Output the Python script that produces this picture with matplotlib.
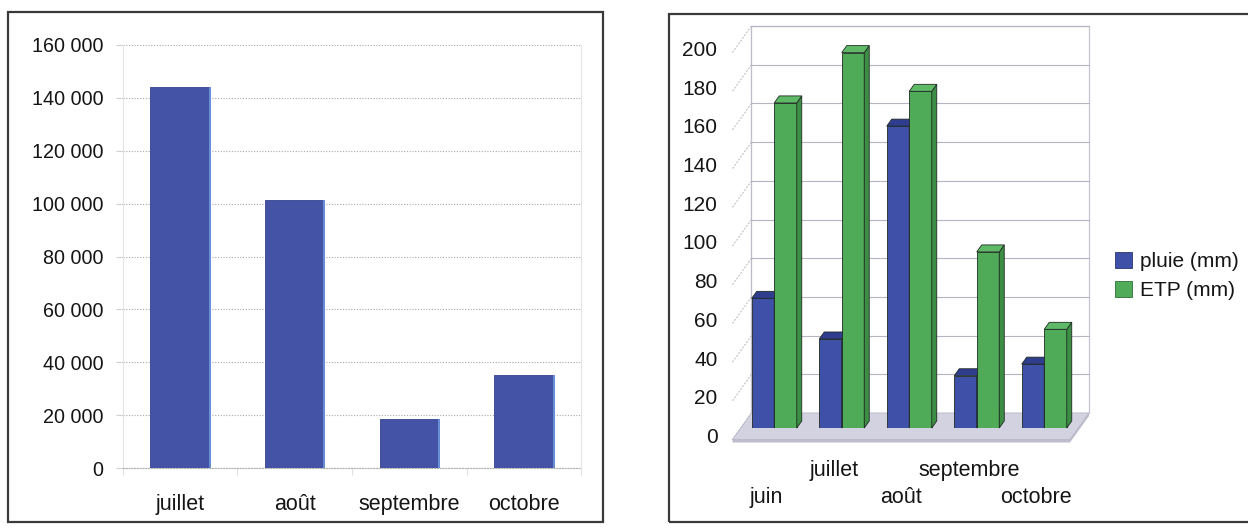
import matplotlib
matplotlib.use("Agg")
import matplotlib.pyplot as plt
from matplotlib.patches import Polygon, Rectangle, Patch

plt.rcParams['font.family'] = ['Liberation Sans', 'DejaVu Sans']

# ---- data -------------------------------------------------------------
mois_volume = ['juillet', 'août', 'septembre', 'octobre']
volumes = [144000, 101500, 18400, 35000]
volume_ticks = [0, 20000, 40000, 60000, 80000, 100000, 120000, 140000, 160000]
volume_tick_labels = ['0', '20 000', '40 000', '60 000', '80 000',
                      '100 000', '120 000', '140 000', '160 000']

mois_bilan = ['juin', 'juillet', 'août', 'septembre', 'octobre']
pluie_mm = [67, 46, 156, 27, 33]
etp_mm = [168, 194, 174, 91, 51]
bilan_ticks = [0, 20, 40, 60, 80, 100, 120, 140, 160, 180, 200]
series_labels = ['pluie (mm)', 'ETP (mm)']

# ---- figure -----------------------------------------------------------
W, H = 1248, 529
fig = plt.figure(figsize=(W / 100, H / 100), dpi=100)


def px_box(x0, y0, x1, y1):
    """Figure-fraction rectangle from pixel edges (origin top-left)."""
    return [x0 / W, 1 - y1 / H, (x1 - x0) / W, (y1 - y0) / H]


def frame(x0, y0, x1, y1):
    l, b, w, h = px_box(x0, y0, x1, y1)
    fig.add_artist(Rectangle((l, b), w, h, transform=fig.transFigure,
                             fill=False, edgecolor='#3a3a3a', lw=1.6))


frame(8, 12, 603, 522)
frame(669, 14, 1262, 522)

TXT = '#151515'

# ---- left panel: simple column chart ----------------------------------
ax1 = fig.add_axes(px_box(122.7, 45, 581.3, 468))
x1 = range(len(mois_volume))
bar_w = 0.52
ax1.bar(x1, volumes, width=bar_w, color='#4453a6', edgecolor='#34428f',
        lw=0.6, zorder=3)
ax1.vlines([i + bar_w / 2 for i in x1], 0, volumes, color='#6f9be0',
           lw=1.2, zorder=4)
ax1.set_xlim(-0.5, len(mois_volume) - 0.5)
ax1.set_ylim(0, volume_ticks[-1])
ax1.set_yticks(volume_ticks)
ax1.set_yticklabels(volume_tick_labels)
ax1.set_xticks(list(x1))
ax1.set_xticklabels(mois_volume)
ax1.set_xticks([i - 0.5 for i in range(len(mois_volume) + 1)], minor=True)
ax1.yaxis.grid(True, linestyle=(0, (1, 1.5)), color='#a8a8a8', lw=0.8,
               zorder=0)
ax1.tick_params(axis='y', length=5, color='#d0d0d0', pad=9, labelsize=14.2,
                labelcolor=TXT)
ax1.tick_params(axis='x', which='major', length=0, pad=19, labelsize=15.5,
                labelcolor=TXT)
ax1.tick_params(axis='x', which='minor', length=5, color='#dadada')
for side in ('left', 'right'):
    ax1.spines[side].set_color('#e4e4e4')
    ax1.spines[side].set_linewidth(0.8)
ax1.spines['top'].set_visible(False)
ax1.spines['bottom'].set_color('#b0b0b0')
ax1.spines['bottom'].set_linestyle((0, (1, 1.5)))
ax1.spines['bottom'].set_linewidth(0.8)

# ---- right panel: pseudo-3D clustered columns ------------------------
ax2 = fig.add_axes(px_box(740.5, 41, 1078, 428))
n = len(mois_bilan)
ax2.set_xlim(-0.5, n - 0.5)
ax2.set_ylim(0, bilan_ticks[-1])
ax2.axis('off')

# pixel -> data scale of this axes
sx = (1078 - 740.5) / n
sy = (428 - 41) / bilan_ticks[-1]
front_dx, front_dy = -8 / sx, -11.5 / sy     # front edge of the floor
back_dx, back_dy = 11 / sx, 15 / sy          # back wall plane
bar_dx, bar_dy = 5 / sx, 7 / sy              # depth of one column
x_lo, x_hi = -0.5, n - 0.5
top = bilan_ticks[-1]

kw = dict(clip_on=False)
# back wall
ax2.add_patch(Polygon([(x_lo + back_dx, back_dy), (x_hi + back_dx, back_dy),
                       (x_hi + back_dx, top + back_dy),
                       (x_lo + back_dx, top + back_dy)],
                      closed=True, facecolor='white', edgecolor='#c4c4d4',
                      lw=0.9, zorder=1, **kw))
for v in bilan_ticks[1:]:
    ax2.plot([x_lo + back_dx, x_hi + back_dx], [v + back_dy, v + back_dy],
             color='#b4b4c4', lw=0.8, zorder=1, **kw)
# left wall depth lines
for v in bilan_ticks:
    ax2.plot([x_lo + front_dx, x_lo + back_dx],
             [v + front_dy, v + back_dy], color='#b8b8b8', lw=0.7,
             linestyle=(0, (2, 1.5)), zorder=1, **kw)
ax2.plot([x_lo + back_dx, x_lo + back_dx], [back_dy, top + back_dy],
         color='#b8b8c4', lw=0.8, linestyle=(0, (1.5, 1)), zorder=1, **kw)

# floor slab
slab = 3 / sy
ax2.add_patch(Polygon([(x_lo + front_dx, front_dy - slab),
                       (x_hi + front_dx, front_dy - slab),
                       (x_hi + back_dx, back_dy - slab),
                       (x_hi + back_dx, back_dy),
                       (x_lo + back_dx, back_dy),
                       (x_lo + front_dx, front_dy)],
                      closed=True, facecolor='#bdbdcd', edgecolor='none',
                      zorder=1.5, **kw))
ax2.add_patch(Polygon([(x_lo + front_dx, front_dy), (x_hi + front_dx, front_dy),
                       (x_hi + back_dx, back_dy), (x_lo + back_dx, back_dy)],
                      closed=True, facecolor='#d2d2e0', edgecolor='#b8b8c8',
                      lw=0.6, zorder=1.6, **kw))

# columns
bw = 1 / 3
styles = [
    dict(front='#3f50a8', top='#2f3d8e', side='#27347c'),
    dict(front='#4fab58', top='#5fba68', side='#3b8e44'),
]
edge = '#1f2a22'
for s, (vals, st) in enumerate(zip([pluie_mm, etp_mm], styles)):
    z = 3 + s
    lefts = [i - bw + s * bw for i in range(n)]
    ax2.bar(lefts, vals, width=bw, align='edge', color=st['front'],
            edgecolor=edge, lw=0.6, zorder=z)
    for x0, v in zip(lefts, vals):
        x1 = x0 + bw
        ax2.add_patch(Polygon([(x1, 0), (x1, v), (x1 + bar_dx, v + bar_dy),
                               (x1 + bar_dx, bar_dy)], closed=True,
                              facecolor=st['side'], edgecolor=edge, lw=0.6,
                              zorder=z, **kw))
        ax2.add_patch(Polygon([(x0, v), (x1, v), (x1 + bar_dx, v + bar_dy),
                               (x0 + bar_dx, v + bar_dy)], closed=True,
                              facecolor=st['top'], edgecolor=edge, lw=0.6,
                              zorder=z, **kw))

# value axis labels on the front edge
for v in bilan_ticks:
    ax2.text(x_lo + front_dx - 15 / sx, v + front_dy + 2 / sy, str(v),
             ha='right', va='center', fontsize=15, color=TXT, **kw)

# category labels, staggered on two rows
for i, m in enumerate(mois_bilan):
    row = 58 if i % 2 == 0 else 31
    ax2.text(i + front_dx, front_dy - row / sy, m, ha='center', va='center',
             fontsize=15.5, color=TXT, **kw)

handles = [Patch(facecolor=styles[0]['front'], edgecolor='#2a3570', lw=0.6),
           Patch(facecolor=styles[1]['front'], edgecolor='#2f6e36', lw=0.6)]
fig.legend(handles, series_labels, loc='center left',
           bbox_to_anchor=(1115 / W, 1 - 276 / H), frameon=False,
           fontsize=15, handlelength=0.8, handleheight=0.8,
           handletextpad=0.4, labelspacing=0.45, borderpad=0,
           borderaxespad=0, labelcolor=TXT)

fig.savefig('out.png', dpi=100, facecolor='white')
